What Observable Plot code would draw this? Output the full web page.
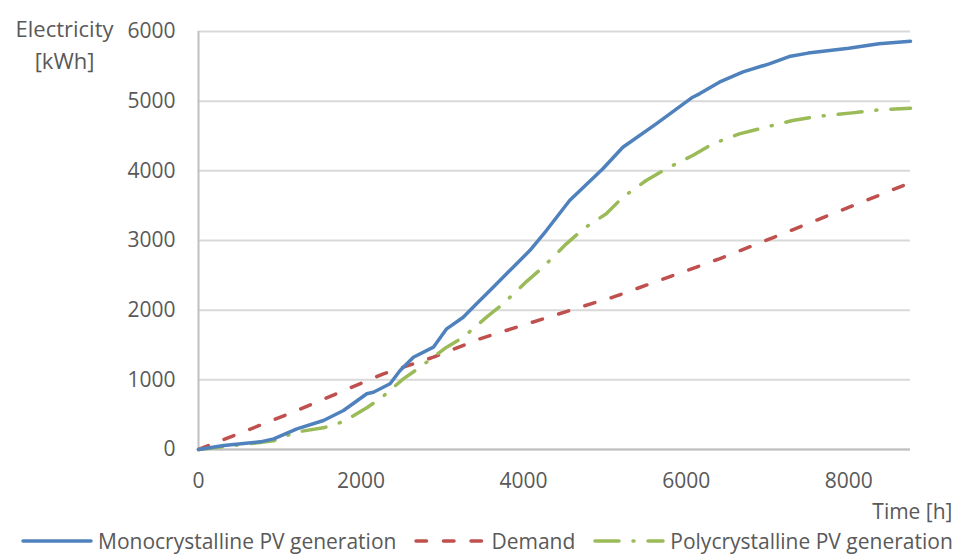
<!DOCTYPE html>
<html>
<head>
<meta charset="utf-8">
<script src="https://cdn.jsdelivr.net/npm/d3@7"></script>
<script src="https://cdn.jsdelivr.net/npm/@observablehq/plot@0.6"></script>
<style>
  body { margin: 0; background: #fff; font-family: "Open Sans", sans-serif; }
  #chart { position: relative; width: 954px; height: 555px; }
  #legend { position: absolute; left: 21px; top: 529px; display: flex; align-items: center;
            font-size: 21px; color: #595959; white-space: nowrap; line-height: 24px; height: 24px; }
  #legend .item { display: flex; align-items: center; margin-right: 18px; }
  #legend svg { display: block; margin-right: 5px; }
</style>
</head>
<body>
<div id="chart"></div>
<script>
// Cumulative yearly electricity (kWh) against hour of the year
const monoHours = [0, 311, 760, 925, 1211, 1538, 1784, 2071, 2152, 2357, 2480, 2644, 2890, 3053, 3257, 3421, 3626, 3871, 4076, 4280, 4566, 4975, 5221, 5631, 6080, 6163, 6408, 6700, 7022, 7267, 7500, 8000, 8372, 8760];
const monoKWh   = [0, 57, 110, 153, 297, 416, 560, 800, 822, 943, 1134, 1325, 1469, 1732, 1899, 2091, 2330, 2617, 2856, 3143, 3574, 4029, 4339, 4675, 5057, 5105, 5272, 5420, 5536, 5640, 5690, 5760, 5823, 5860];

const demandHours = [0, 1130, 2275, 2890, 3462, 4894, 5099, 6408, 7063, 7595, 8760];
const demandKWh   = [0, 520, 1086, 1325, 1589, 2115, 2186, 2737, 3039, 3287, 3830];

const polyHours = [0, 311, 925, 1200, 1538, 1784, 2071, 2234, 2520, 2725, 3053, 3257, 3544, 3748, 4035, 4239, 4526, 4750, 5017, 5221, 5508, 5754, 6080, 6326, 6654, 6981, 7308, 7636, 8045, 8372, 8760];
const polyKWh   = [0, 40, 125, 250, 311, 400, 600, 727, 1014, 1181, 1469, 1612, 1899, 2091, 2410, 2617, 2952, 3180, 3383, 3622, 3861, 4029, 4220, 4388, 4531, 4627, 4722, 4784, 4832, 4875, 4900];

const yTicks = [0, 1000, 2000, 3000, 4000, 5000, 6000];
const xTicks = [0, 2000, 4000, 6000, 8000];

const seriesNames = ["Monocrystalline PV generation", "Demand", "Polycrystalline PV generation"];
const seriesColors = ["#4F81BD", "#C0504D", "#9BBB59"];
const seriesDash = [null, "10.5,17", "24,14,1,14"];

const toRows = (hours, kwh) => hours.map((h, i) => ({h, kwh: kwh[i]}));
const mono = toRows(monoHours, monoKWh);
const demand = toRows(demandHours, demandKWh);
const poly = toRows(polyHours, polyKWh);

const lineOpts = (i) => ({
  x: "h", y: "kwh", stroke: seriesColors[i], strokeWidth: 3.5,
  strokeLinecap: "round", strokeLinejoin: "round",
  ...(seriesDash[i] ? {strokeDasharray: seriesDash[i]} : {})
});

const plain = d3.format("d");

const plot = Plot.plot({
  width: 954, height: 555,
  marginLeft: 198, marginRight: 44, marginTop: 31, marginBottom: 106,
  style: {fontFamily: "'Open Sans', sans-serif", fontSize: "21px", color: "#595959", background: "white", overflow: "visible"},
  x: {domain: [0, 8760]},
  y: {domain: [0, 6000]},
  marks: [
    Plot.gridY(yTicks, {stroke: "#d9d9d9", strokeOpacity: 1, strokeWidth: 2}),
    Plot.ruleY([0], {stroke: "#bfbfbf", strokeWidth: 2}),
    Plot.ruleX([0], {stroke: "#bfbfbf", strokeWidth: 2}),
    Plot.axisY(yTicks, {tickSize: 0, tickPadding: 23, label: null, fill: "#595959", tickFormat: plain}),
    Plot.axisX(xTicks, {tickSize: 0, tickPadding: 24, label: null, fill: "#595959", tickFormat: plain}),
    Plot.line(demand, lineOpts(1)),
    Plot.line(poly, lineOpts(2)),
    Plot.line(mono, lineOpts(0)),
    Plot.text(["Electricity\n[kWh]"], {frameAnchor: "top-left", textAnchor: "middle", lineAnchor: "middle",
      lineHeight: 1.48, dx: -134, dy: 11, fill: "#595959", fontSize: 22}),
    Plot.text(["Time [h]"], {frameAnchor: "bottom-right", textAnchor: "end", lineAnchor: "middle",
      dx: 42, dy: 63, fill: "#595959"})
  ]
});

const chart = document.getElementById("chart");
chart.appendChild(plot);

// Legend under the chart
const legend = document.createElement("div");
legend.id = "legend";
seriesNames.forEach((name, i) => {
  const item = document.createElement("div");
  item.className = "item";
  const svg = d3.create("svg").attr("width", 72).attr("height", 10);
  svg.append("line").attr("x1", 2).attr("x2", 70).attr("y1", 5).attr("y2", 5)
    .attr("stroke", seriesColors[i]).attr("stroke-width", 3.5).attr("stroke-linecap", "round")
    .attr("stroke-dasharray", seriesDash[i]);
  item.appendChild(svg.node());
  const label = document.createElement("span");
  label.textContent = name;
  item.appendChild(label);
  legend.appendChild(item);
});
chart.appendChild(legend);
</script>
</body>
</html>
